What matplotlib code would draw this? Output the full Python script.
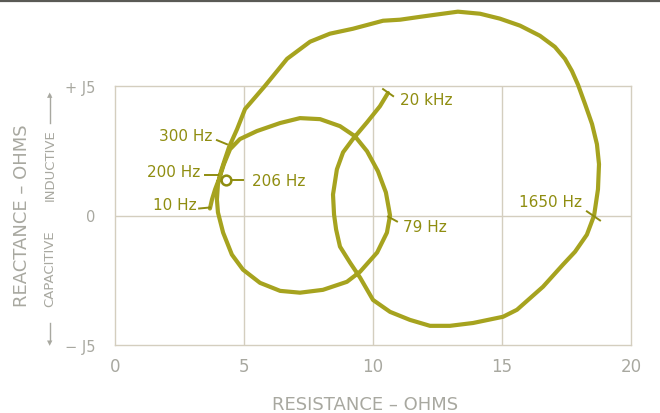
import matplotlib

matplotlib.use("Agg")

import matplotlib.pyplot as plt  # noqa: E402
from matplotlib.lines import Line2D  # noqa: E402

# impedance locus, 10 Hz -> 20 kHz (ohms)
resistance = [
    3.68, 3.76, 3.88, 4.03, 4.22, 4.46, 4.84, 5.50, 6.40, 7.17, 7.95, 8.72,
    9.30, 9.77, 10.19, 10.50, 10.62, 10.66, 10.54, 10.16, 9.50, 8.99, 8.06,
    7.17, 6.40, 5.62, 4.96, 4.53, 4.19, 3.99, 3.95, 3.99, 4.11, 4.26, 4.42,
    4.73, 5.04, 5.81, 6.67, 7.56, 8.33, 9.22, 10.39, 11.05, 11.82, 12.40,
    13.29, 14.15, 14.92, 15.70, 16.47, 17.05, 17.44, 17.71, 17.95, 18.22,
    18.49, 18.68, 18.76, 18.72, 18.57, 18.29, 17.83, 17.36, 16.59, 15.58,
    15.04, 13.88, 12.98, 12.21, 11.43, 10.66, 10.00, 9.50, 9.11, 8.72, 8.57,
    8.49, 8.45, 8.60, 8.84, 9.22, 9.77, 10.27, 10.58,
]
reactance = [
    0.27, 0.62, 1.01, 1.40, 1.98, 2.56, 2.95, 3.26, 3.57, 3.76, 3.72, 3.45,
    3.06, 2.48, 1.71, 0.89, 0.23, 0.00, -0.66, -1.43, -2.17, -2.56, -2.87,
    -2.98, -2.91, -2.60, -2.09, -1.51, -0.66, 0.12, 0.62, 1.20, 1.71, 2.17,
    2.64, 3.33, 4.11, 5.00, 6.05, 6.71, 7.02, 7.21, 7.52, 7.56, 7.67, 7.75,
    7.87, 7.79, 7.60, 7.33, 6.94, 6.51, 6.05, 5.58, 5.04, 4.30, 3.53, 2.75,
    1.98, 1.01, 0.00, -0.74, -1.40, -1.90, -2.75, -3.64, -3.91, -4.15, -4.26,
    -4.26, -4.03, -3.72, -3.26, -2.40, -1.82, -1.20, -0.54, 0.04, 0.81, 1.78,
    2.44, 2.95, 3.60, 4.22, 4.73,
]

x_ticks = [0, 5, 10, 15, 20]
x_tick_labels = ["0", "5", "10", "15", "20"]
y_ticks = [-5, 0, 5]
y_tick_labels = ["\u2212 J5", "0", "+ J5"]

CURVE = "#a6a31f"
LABEL = "#8f8d10"
GRID = "#d4cebf"
TEXT = "#a8a8a0"

W, H = 660, 414
fig = plt.figure(figsize=(W / 100, H / 100), dpi=100)
ax = fig.add_axes([115 / W, 1 - 346 / H, 516 / W, 259 / H])

ax.set_xlim(0, 20)
ax.set_ylim(-5, 5)
for v in (5, 10, 15):
    ax.axvline(v, color=GRID, lw=1.0, zorder=1)
ax.axhline(0, color=GRID, lw=1.0, zorder=1)
for s in ax.spines.values():
    s.set_color(GRID)
    s.set_linewidth(1.0)

ax.set_xticks(x_ticks, x_tick_labels)
ax.set_yticks(y_ticks, y_tick_labels)
ax.tick_params(length=0, colors=TEXT, labelsize=12)
ax.tick_params(axis="x", pad=9)
ax.tick_params(axis="y", pad=14, labelsize=10.5)

ax.plot(resistance, reactance, color=CURVE, lw=3.0, solid_joinstyle="round",
        solid_capstyle="round", clip_on=False, zorder=3)


def tick(x0, y0, x1, y1):
    ax.plot([x0, x1], [y0, y1], color=LABEL, lw=1.4, clip_on=False, zorder=4)


lab = dict(color=LABEL, fontsize=11, va="center", zorder=5)
tick(3.95, 2.91, 4.34, 2.75)
ax.text(3.76, 3.10, "300 Hz", ha="right", **lab)
tick(3.49, 1.55, 3.99, 1.55)
ax.text(3.29, 1.71, "200 Hz", ha="right", **lab)
ax.plot([4.30], [1.36], "o", ms=7, mfc="white", mec=LABEL, mew=1.8, zorder=5)
tick(4.50, 1.36, 4.96, 1.36)
ax.text(5.31, 1.36, "206 Hz", ha="left", **lab)
tick(3.26, 0.27, 3.68, 0.31)
ax.text(3.18, 0.43, "10 Hz", ha="right", **lab)
tick(10.39, 4.88, 10.78, 4.61)
ax.text(11.05, 4.46, "20 kHz", ha="left", **lab)
tick(10.58, -0.04, 10.93, -0.23)
ax.text(11.16, -0.43, "79 Hz", ha="left", **lab)
tick(18.29, 0.16, 18.80, -0.19)
ax.text(18.10, 0.54, "1650 Hz", ha="right", **lab)

fig.text(365 / W, 1 - 405 / H, "RESISTANCE \u2013 OHMS", color=TEXT,
         fontsize=13, ha="center", va="center")
fig.text(22 / W, 1 - 216 / H, "REACTANCE \u2013 OHMS", color=TEXT,
         fontsize=13, ha="center", va="center", rotation=90)
fig.text(50 / W, 1 - 165 / H, "INDUCTIVE", color=TEXT, fontsize=9.5,
         ha="center", va="center", rotation=90)
fig.text(50 / W, 1 - 269 / H, "CAPACITIVE", color=TEXT, fontsize=9.5,
         ha="center", va="center", rotation=90)
fig.add_artist(Line2D([50 / W, 50 / W], [1 - 124 / H, 1 - 96 / H], color=TEXT, lw=1))
fig.add_artist(Line2D([50 / W, 50 / W], [1 - 324 / H, 1 - 342 / H], color=TEXT, lw=1))
fig.text(50 / W, 1 - 95 / H, "\u25b2", color=TEXT, fontsize=5, ha="center", va="center")
fig.text(50 / W, 1 - 343 / H, "\u25bc", color=TEXT, fontsize=5, ha="center", va="center")

# page edge picked up by the scan
fig.add_artist(Line2D([0, 1], [1 - 2 / H, 1 - 2 / H], color="#5a5a55", lw=1.6))

fig.savefig("out.png", dpi=100)
